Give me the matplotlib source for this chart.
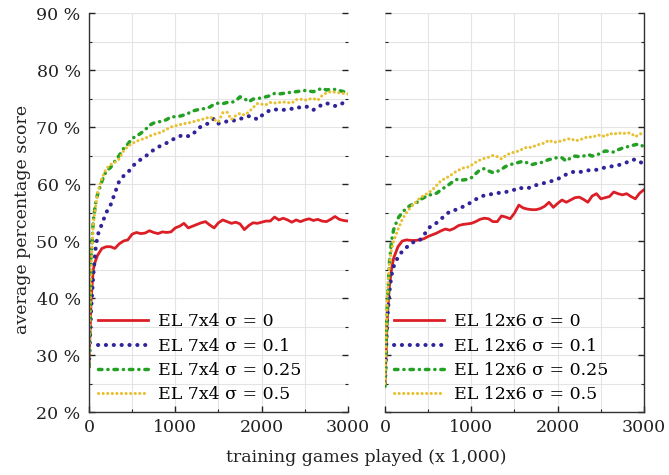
import matplotlib
matplotlib.use("Agg")
import matplotlib.pyplot as plt
from matplotlib.ticker import MultipleLocator

plt.rcParams['font.family'] = ['DejaVu Serif']

# training games played (x 1,000), sample positions
games = [0, 25, 50, 75] + list(range(100, 3001, 50))

# EL 7x4
el7_s0 = [28, 40, 45, 46.5,
          47.5, 48.7, 49.0, 49.0, 48.7, 49.5, 50.0, 50.2, 51.2, 51.5,
          51.3, 51.4, 51.8, 51.5, 51.3, 51.6, 51.5, 51.6, 52.3, 52.6,
          53.1, 52.3, 52.6, 52.9, 53.2, 53.4, 52.8, 52.3, 53.2, 53.7,
          53.4, 53.1, 53.3, 53.0, 52.0, 52.7, 53.2, 53.1, 53.3, 53.5,
          53.5, 54.2, 53.7, 54.0, 53.7, 53.3, 53.7, 53.4, 53.7, 53.9,
          53.6, 53.8, 53.5, 53.4, 53.8, 54.3, 53.8, 53.6, 53.5]
el7_s01 = [28, 38, 44, 48.5,
           51.0, 53.0, 55.0, 56.3, 58.4, 60.5, 61.4, 62.0, 63.0, 63.8,
           64.3, 64.8, 65.4, 66.0, 66.5, 66.8, 67.2, 67.7, 68.0, 68.4,
           68.6, 68.4, 68.6, 69.6, 70.1, 70.4, 70.8, 71.5, 70.6, 70.8,
           71.0, 71.2, 71.1, 71.4, 71.7, 71.9, 71.8, 71.3, 72.0, 72.5,
           73.0, 73.1, 73.0, 73.0, 73.1, 73.2, 73.5, 73.4, 73.6, 73.5,
           73.0, 73.5, 73.9, 74.2, 73.9, 73.7, 73.8, 74.3, 75.0]
el7_s025 = [28, 47, 53.5, 56.5,
            58.2, 60.5, 62.3, 62.9, 64.0, 65.0, 66.2, 67.0, 68.0, 68.4,
            68.9, 69.5, 70.3, 70.7, 70.9, 71.0, 71.3, 71.8, 71.8, 71.9,
            72.1, 72.4, 72.8, 73.0, 73.1, 73.3, 73.5, 74.0, 74.2, 74.1,
            74.3, 74.3, 74.6, 75.3, 75.0, 74.4, 74.9, 75.0, 75.1, 75.3,
            75.5, 75.9, 75.8, 75.9, 76.0, 76.1, 76.2, 76.3, 76.4, 76.3,
            76.2, 76.5, 76.8, 76.5, 76.6, 76.6, 76.4, 76.2, 75.9]
el7_s05 = [28, 46, 53, 56,
           58.5, 61.0, 62.7, 63.4, 63.8, 64.4, 65.8, 66.6, 67.1, 67.5,
           67.8, 68.0, 68.4, 68.7, 68.9, 69.2, 69.6, 70.0, 70.2, 70.4,
           70.6, 70.7, 70.9, 71.1, 71.3, 71.5, 71.8, 71.3, 70.9, 72.5,
           72.6, 71.3, 72.0, 72.4, 72.1, 72.6, 73.4, 74.1, 74.0, 73.9,
           74.3, 74.2, 74.3, 74.4, 74.3, 74.2, 74.8, 74.9, 74.7, 74.9,
           75.0, 74.7, 75.5, 76.0, 76.2, 76.1, 76.0, 75.9, 75.8]

# EL 12x6
el12_s0 = [25, 36, 42, 45,
           47.0, 49.0, 50.0, 50.2, 50.1, 50.1, 50.2, 50.4, 50.8, 51.1,
           51.4, 51.8, 52.1, 51.9, 52.2, 52.7, 52.9, 53.0, 53.1, 53.4,
           53.8, 54.0, 53.9, 53.4, 53.4, 54.4, 54.2, 53.9, 54.9, 56.3,
           55.8, 55.6, 55.5, 55.5, 55.7, 56.1, 56.8, 55.9, 56.6, 57.2,
           56.8, 57.2, 57.6, 57.7, 57.3, 56.8, 57.9, 58.3, 57.4, 57.6,
           57.8, 58.6, 58.3, 58.1, 58.3, 57.8, 57.4, 58.4, 59.0]
el12_s01 = [25, 36, 41, 44,
            45.5, 47.2, 48.2, 48.9, 49.5, 50.0, 50.1, 51.0, 52.2, 52.8,
            53.2, 53.9, 54.5, 55.2, 55.4, 55.6, 56.0, 56.4, 56.8, 57.3,
            57.7, 58.0, 58.1, 58.3, 58.4, 58.5, 58.6, 58.8, 59.0, 59.4,
            59.2, 59.3, 59.4, 59.8, 60.0, 60.2, 60.4, 60.6, 60.9, 61.2,
            61.7, 62.0, 62.2, 62.1, 62.2, 62.4, 62.4, 62.5, 62.7, 62.9,
            63.0, 63.2, 63.3, 63.5, 63.8, 64.2, 64.3, 64.0, 63.3]
el12_s025 = [24.5, 38, 46, 50,
             52.0, 54.0, 55.0, 55.8, 56.3, 56.5, 57.2, 57.6, 58.0, 58.2,
             58.4, 59.0, 59.5, 60.0, 60.6, 60.9, 60.7, 60.8, 61.1, 61.8,
             62.5, 62.7, 62.3, 62.0, 62.2, 62.6, 63.1, 63.4, 63.6, 63.8,
             64.0, 63.7, 63.4, 63.6, 63.7, 64.0, 64.3, 64.4, 64.7, 64.6,
             64.0, 64.6, 64.9, 64.8, 64.9, 65.2, 64.9, 65.1, 65.4, 65.8,
             65.7, 65.6, 66.0, 66.3, 66.5, 66.7, 66.9, 67.0, 66.5]
el12_s05 = [25, 40, 46, 48.5,
            50.0, 52.0, 53.8, 55.0, 56.0, 56.7, 57.5, 58.0, 58.4, 59.0,
            59.8, 60.6, 61.0, 61.4, 62.0, 62.4, 62.8, 62.9, 63.3, 63.8,
            64.2, 64.5, 64.7, 65.0, 64.8, 64.4, 65.0, 65.4, 65.6, 65.8,
            66.2, 66.5, 66.4, 66.8, 67.0, 67.2, 67.7, 67.3, 67.4, 67.6,
            67.8, 68.0, 67.6, 67.7, 68.0, 68.3, 68.2, 68.5, 68.6, 68.3,
            68.9, 68.7, 69.0, 68.8, 69.0, 68.9, 68.3, 68.7, 69.2]

sigmas = ['0', '0.1', '0.25', '0.5']
y_ticks = [20, 30, 40, 50, 60, 70, 80, 90]
x_ticks = [0, 1000, 2000, 3000]

colors = ['#dc1f26', '#30249a', '#24a024', '#e8c030']
styles = [
    dict(linestyle='-', linewidth=2.0),
    dict(linestyle=(0, (0.05, 1.9)), linewidth=2.9, dash_capstyle='round'),
    dict(linestyle=(0, (1.0, 1.7, 0.05, 1.7)), linewidth=2.5, dash_capstyle='round'),
    dict(linestyle=(0, (0.05, 1.45)), linewidth=2.2, dash_capstyle='round'),
]

fig = plt.figure(figsize=(6.69, 4.75), dpi=100)
ax1 = fig.add_axes([0.1330, 0.1326, 0.3871, 0.8400])
ax2 = fig.add_axes([0.5755, 0.1326, 0.3871, 0.8400])

panels = [
    (ax1, '7x4', [el7_s0, el7_s01, el7_s025, el7_s05]),
    (ax2, '12x6', [el12_s0, el12_s01, el12_s025, el12_s05]),
]

for ax, size, series in panels:
    for vals, sig, c, st in zip(series, sigmas, colors, styles):
        ax.plot(games, vals, color=c, label=f'EL {size} σ = {sig}', **st)

    ax.set_xlim(0, 3000)
    ax.set_ylim(20, 90)
    ax.set_xticks(x_ticks)
    ax.set_yticks(y_ticks)
    ax.xaxis.set_minor_locator(MultipleLocator(500))
    ax.yaxis.set_minor_locator(MultipleLocator(5))
    ax.grid(True, which='both', color='#e4e4e4', linewidth=0.8)
    ax.set_axisbelow(True)
    ax.tick_params(which='both', direction='in', left=True, right=True,
                   top=False, bottom=True, labelsize=12.5, colors='#222222')
    ax.tick_params(which='major', length=4, width=1.0)
    ax.tick_params(which='minor', length=2.5, width=0.8)
    ax.tick_params(axis='x', pad=5)
    ax.tick_params(axis='y', pad=6)
    for s in ax.spines.values():
        s.set_color('#333333')
        s.set_linewidth(1.0)
    ax.spines['top'].set_visible(False)

    ax.legend(loc='lower left', frameon=False, fontsize=12.5, handlelength=2.9,
              handletextpad=0.6, labelspacing=0.42, borderaxespad=0.2,
              borderpad=0.3)

ax1.set_yticklabels([f'{v} %' for v in y_ticks])
ax1.spines['right'].set_visible(False)
ax2.spines['left'].set_visible(False)
ax2.tick_params(axis='y', labelleft=False)

fig.text(0.033, 0.537, 'average percentage score', rotation=90,
         ha='center', va='center', fontsize=12.5, color='#222222')
fig.text(0.547, 0.036, 'training games played (x 1,000)',
         ha='center', va='center', fontsize=12.5, color='#222222')

fig.savefig('out.png', dpi=100)
